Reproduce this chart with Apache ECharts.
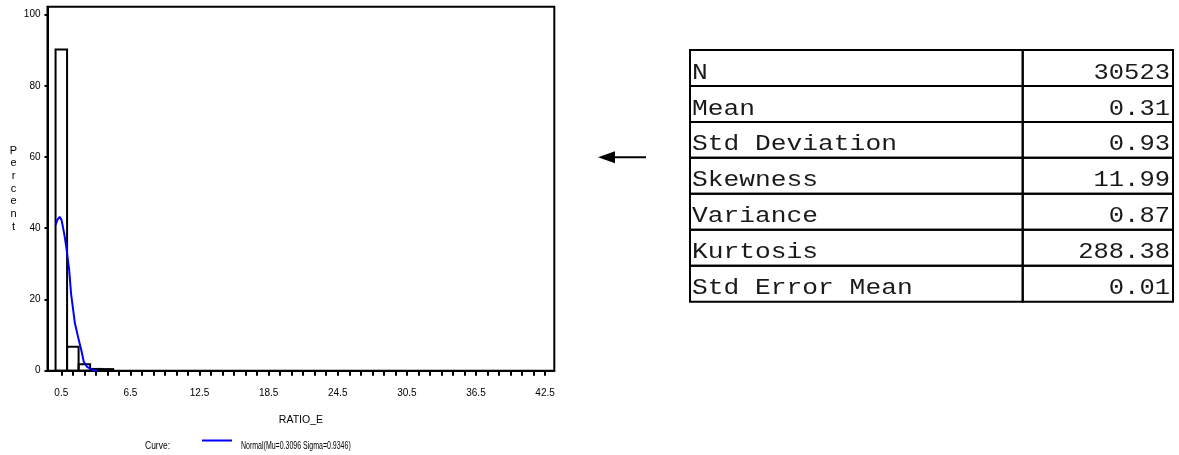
<!DOCTYPE html>
<html>
<head>
<meta charset="utf-8">
<title>RATIO_E distribution</title>
<script src="https://cdn.jsdelivr.net/npm/echarts@6.0.0/dist/echarts.min.js"></script>
<style>
  html, body { margin: 0; padding: 0; background: #fff; }
  #chart { width: 1179px; height: 455px; }
</style>
</head>
<body>
<div id="chart"></div>
<script>
// Histogram bins of RATIO_E (percent of observations per unit-wide bin)
const binLower = [0, 1, 2, 3, 4];
const binUpper = [1, 2, 3, 4, 5];
const binPercent = [90.2, 6.7, 1.8, 0.5, 0.45];

// Fitted normal curve, sampled points (x, percent)
const curveX = [0, 0.18, 0.36, 0.52, 0.75, 0.93, 1.18, 1.35, 1.68, 1.95, 2.23, 2.45, 2.73, 3.06, 3.33, 3.6];
const curveY = [40.9, 42.5, 43.2, 42.3, 38.5, 34.8, 28.3, 21.5, 13.3, 9.5, 5.8, 2.5, 1.1, 0.5, 0.05, 0];
const curveMu = '0.3096';
const curveSigma = '0.9346';

// Axis ticks and labels
const xLabelValues = [0.5, 6.5, 12.5, 18.5, 24.5, 30.5, 36.5, 42.5];
const xTickStart = 0.5, xTickEnd = 42.5, xTickStep = 1;
const yLabelValues = [0, 20, 40, 60, 80, 100];

// Summary statistics table
const statLabels = ['N', 'Mean', 'Std Deviation', 'Skewness', 'Variance', 'Kurtosis', 'Std Error Mean'];
const statValues = ['30523', '0.31', '0.93', '11.99', '0.87', '288.38', '0.01'];

const xTickValues = [];
for (let v = xTickStart; v <= xTickEnd + 1e-9; v += xTickStep) xTickValues.push(+v.toFixed(2));

const sansFont = "'Liberation Sans', Arial, sans-serif";
const monoFont = "'Liberation Mono', 'DejaVu Sans Mono', monospace";

// Table geometry
const tbl = { x: 690, y: 50, w: 483, rowH: 35.95, splitX: 1022.7 };
const tableGraphics = [];
statLabels.forEach((label, i) => {
  const top = tbl.y + i * tbl.rowH;
  tableGraphics.push({
    type: 'rect', silent: true,
    shape: { x: tbl.x, y: top, width: tbl.splitX - tbl.x, height: tbl.rowH },
    style: { fill: 'none', stroke: '#000', lineWidth: 2 }
  });
  tableGraphics.push({
    type: 'rect', silent: true,
    shape: { x: tbl.splitX, y: top, width: tbl.x + tbl.w - tbl.splitX, height: tbl.rowH },
    style: { fill: 'none', stroke: '#000', lineWidth: 2 }
  });
  tableGraphics.push({
    type: 'text', silent: true, x: tbl.x + 2, y: top + 22.5, scaleX: 1.03, scaleY: 0.9,
    style: { text: label, font: '25.5px ' + monoFont, fill: '#1a1a1a', textAlign: 'left', textVerticalAlign: 'middle' }
  });
  tableGraphics.push({
    type: 'text', silent: true, x: tbl.x + tbl.w - 3, y: top + 22.5, scaleY: 0.9,
    style: { text: statValues[i], font: '25.5px ' + monoFont, fill: '#1a1a1a', textAlign: 'right', textVerticalAlign: 'middle' }
  });
});

const chart = echarts.init(document.getElementById('chart'), null, { renderer: 'canvas' });

chart.setOption({
  animation: false,
  backgroundColor: '#fff',
  grid: {
    left: 47.5, top: 6.7, right: 624.7, bottom: 84.3,
    show: true, borderColor: '#000', borderWidth: 2, backgroundColor: 'transparent'
  },
  xAxis: {
    type: 'value', min: -0.7, max: 43.3,
    name: 'RATIO_E', nameLocation: 'middle', nameGap: 44,
    nameTextStyle: { fontFamily: sansFont, fontSize: 10.5, color: '#000' },
    axisLine: { show: true, onZero: false, lineStyle: { color: '#000', width: 2 } },
    axisTick: { show: true, customValues: xTickValues, length: 5, inside: false, lineStyle: { color: '#000', width: 2 } },
    axisLabel: {
      customValues: xLabelValues, margin: 18,
      fontFamily: sansFont, fontSize: 10, color: '#000',
      formatter: v => String(v)
    },
    splitLine: { show: false }
  },
  yAxis: {
    type: 'value', min: 0, max: 102.2,
    name: verticalLetters('Percent'), nameLocation: 'middle', nameRotate: 0, nameGap: 34,
    nameTextStyle: { fontFamily: sansFont, fontSize: 11, color: '#000', align: 'center', verticalAlign: 'middle', lineHeight: 12.7 },
    axisLine: { show: true, onZero: false, lineStyle: { color: '#000', width: 2 } },
    axisTick: { show: true, customValues: yLabelValues, length: 3, lineStyle: { color: '#000', width: 2 } },
    axisLabel: {
      customValues: yLabelValues, margin: 7,
      fontFamily: sansFont, fontSize: 10, color: '#000',
      formatter: v => String(v)
    },
    splitLine: { show: false }
  },
  series: [
    {
      name: 'Histogram',
      type: 'custom',
      z: 2,
      data: binPercent.map((p, i) => [binLower[i], binUpper[i], p]),
      renderItem: (params, api) => {
        const topLeft = api.coord([api.value(0), api.value(2)]);
        const bottomRight = api.coord([api.value(1), 0]);
        return {
          type: 'rect',
          shape: { x: topLeft[0], y: topLeft[1], width: bottomRight[0] - topLeft[0], height: bottomRight[1] - topLeft[1] },
          style: { fill: 'none', stroke: '#000', lineWidth: 2 }
        };
      }
    },
    {
      name: 'Normal',
      type: 'line',
      z: 3,
      data: curveX.map((x, i) => [x, curveY[i]]),
      showSymbol: false,
      smooth: false,
      lineStyle: { color: '#0000ff', width: 2 },
      itemStyle: { color: '#0000ff' }
    }
  ],
  graphic: [
    // Curve legend
    { type: 'text', silent: true, x: 145, y: 446, scaleX: 0.85,
      style: { text: 'Curve:', font: '10px ' + sansFont, fill: '#000', textAlign: 'left', textVerticalAlign: 'middle' } },
    { type: 'line', silent: true, shape: { x1: 202, y1: 440.5, x2: 232, y2: 440.5 },
      style: { stroke: '#0000ff', lineWidth: 2 } },
    { type: 'text', silent: true, x: 241, y: 446, scaleX: 0.7,
      style: { text: 'Normal(Mu=' + curveMu + ' Sigma=' + curveSigma + ')', font: '10px ' + sansFont, fill: '#000', textAlign: 'left', textVerticalAlign: 'middle' } },
    // Arrow pointing from the table towards the chart
    { type: 'line', silent: true, shape: { x1: 612, y1: 157.3, x2: 646, y2: 157.3 },
      style: { stroke: '#000', lineWidth: 2 } },
    { type: 'polygon', silent: true, shape: { points: [[598, 157.3], [615, 151.3], [615, 163.3]] },
      style: { fill: '#000' } },
    ...tableGraphics
  ]
});

function verticalLetters(word) {
  return word.split('').join('\n');
}
</script>
</body>
</html>
